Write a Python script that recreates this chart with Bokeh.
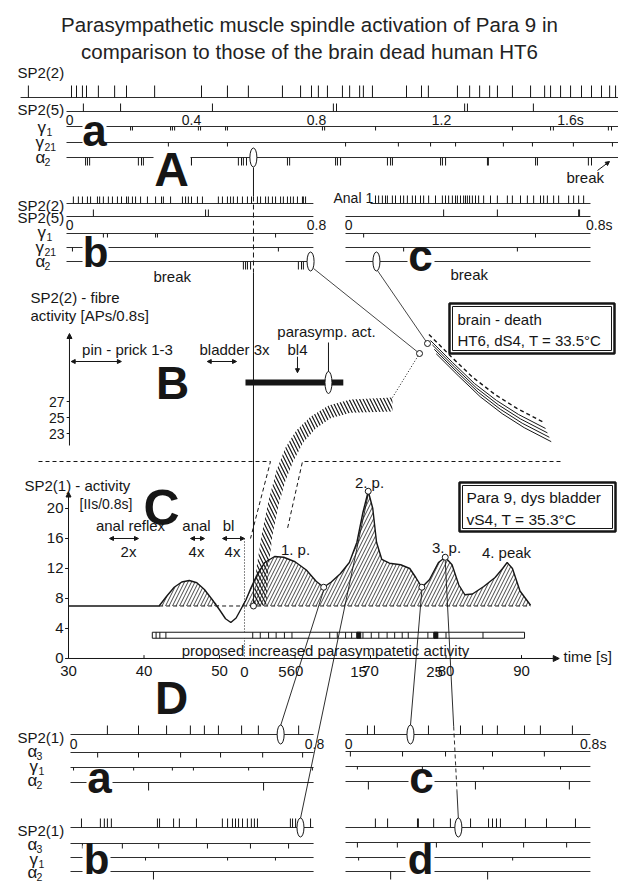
import numpy as np
from bokeh.plotting import figure
from bokeh.models import Range1d, Arrow, NormalHead
from bokeh.core.properties import value
from bokeh.embed import file_html
from bokeh.resources import INLINE

W, H = 618, 882
FONT = "Liberation Sans"
INK = "#161616"

TITLE = ["Parasympathetic muscle spindle activation of Para 9 in",
         "comparison to those of the brain dead human HT6"]

# ---------------- spike trains (s) ----------------
# A-a (0-1.75 s)
Aa_SP22 = [-0.122, 0.016, 0.032, 0.051, 0.064, 0.102, 0.154, 0.192, 0.282, 0.432, 0.515, 0.582,
           0.691, 0.749, 0.784, 0.806, 0.835, 0.883, 0.906, 0.938, 0.950, 0.979, 1.088, 1.136,
           1.158, 1.251, 1.290, 1.322, 1.354, 1.379, 1.427, 1.485, 1.530, 1.549, 1.581, 1.613,
           1.648, 1.680, 1.712, 1.738, 1.757]
Aa_SP25 = [0.054, 0.173, 0.467, 0.854, 0.864, 1.274, 1.283, 1.494]
Aa_G1 = [0.205, 0.211, 0.333, 0.339, 0.346, 0.422, 0.429, 0.509, 0.515, 0.819, 0.826, 0.989,
         1.427, 1.549, 1.558, 1.734, 1.744]
Aa_G21 = [0.326, 0.515, 0.893, 1.062, 1.165, 1.245, 1.398, 1.491, 1.622, 1.747]
Aa_A2 = [0.061, 0.067, 0.074, 0.230, 0.240, 0.246, 0.387, 0.394, 0.400, 0.550, 0.560, 0.566,
         0.576, 0.707, 0.714, 0.861, 0.867, 0.877, 1.027, 1.037, 1.043, 1.197, 1.203, 1.213,
         1.347, 1.350, 1.501, 1.507, 1.670, 1.680]
Aa_MARK = 0.598
Aa_TICKS = [0.01, 0.4, 0.8, 1.2, 1.613]
Aa_TICK_LABELS = ["0", "0.4", "0.8", "1.2", "1.6s"]

# A-b (0-0.8 s)
Ab_SP22 = [0.022, 0.038, 0.051, 0.067, 0.077, 0.099, 0.106, 0.118, 0.134, 0.147, 0.163, 0.176,
           0.192, 0.198, 0.211, 0.221, 0.237, 0.259, 0.285, 0.304, 0.310, 0.333, 0.371, 0.381,
           0.390, 0.400, 0.419, 0.435, 0.486, 0.499, 0.515, 0.525, 0.534, 0.547, 0.563, 0.579,
           0.592, 0.611, 0.621, 0.637, 0.646, 0.659, 0.669, 0.685, 0.694, 0.707, 0.717, 0.726,
           0.739, 0.755, 0.758, 0.765]
Ab_SP25 = [0.086, 0.445, 0.454]
Ab_G1 = [0.118, 0.131, 0.285, 0.291, 0.669]
Ab_G21 = [0.019, 0.678]
Ab_A2 = [0.566, 0.573, 0.579, 0.589, 0.742, 0.752, 0.758]
Ab_MARK = 0.781

# A-c (0-0.8 s), "Anal 1"
Ac_SP22 = [0.096, 0.106, 0.118, 0.128, 0.134, 0.150, 0.160, 0.176, 0.186, 0.198, 0.214, 0.224,
           0.240, 0.250, 0.266, 0.288, 0.310, 0.320, 0.330, 0.342, 0.352, 0.358, 0.368, 0.378,
           0.384, 0.390, 0.397, 0.406, 0.416, 0.426, 0.442, 0.464, 0.486, 0.518, 0.534, 0.560,
           0.582, 0.602, 0.624, 0.634, 0.646, 0.666, 0.682, 0.714, 0.730, 0.746, 0.762]
Ac_SP25 = [0.314, 0.486, 0.746, 0.749]
Ac_G1 = [0.058, 0.608]
Ac_G21 = [0.186, 0.550]
Ac_MARK = 0.099

# D panels (0-0.8 s)
Da_SP21 = [0.121, 0.223, 0.315, 0.393, 0.439, 0.485, 0.561, 0.616, 0.748]
Da_A3 = [0.089, 0.223, 0.361, 0.492, 0.630, 0.761]
Da_G1 = [0.010, 0.207, 0.334, 0.403, 0.584, 0.793]
Da_A2 = [0.256, 0.633]
Da_MARK = 0.689
Db_SP21 = [0.036, 0.098, 0.111, 0.121, 0.134, 0.285, 0.292, 0.338, 0.357, 0.413, 0.498, 0.515,
           0.531, 0.541, 0.551, 0.564, 0.580, 0.593, 0.603, 0.613, 0.721, 0.728, 0.738, 0.787]
Db_A3 = [0.039, 0.170, 0.289, 0.449, 0.590, 0.715]
Db_G1 = [0.043, 0.052, 0.246, 0.515, 0.672]
Db_A2 = [0.272]
Db_MARK = 0.754
Dc_SP21 = [0.072, 0.095, 0.272, 0.377, 0.449, 0.498, 0.587, 0.639, 0.744]
Dc_A3 = [0.016, 0.187, 0.328, 0.482, 0.652]
Dc_G1 = [0.039, 0.252, 0.452, 0.705]
Dc_A2 = [0.075, 0.426, 0.734]
Dc_MARK = 0.213
Dd_SP21 = [0.098, 0.138, 0.236, 0.239, 0.289, 0.344, 0.410, 0.469, 0.482, 0.495, 0.508, 0.590,
           0.659, 0.754]
Dd_A3 = [0.039, 0.170, 0.298, 0.449, 0.584, 0.725]
Dd_G1 = [0.043, 0.548]
Dd_A2 = [0.148, 0.466]
Dd_MARK = 0.370

# ---------------- panel C: SP2(1) activity [IIs/0.8s] vs time [s] ----------------
C_TIME = [30, 42.0, 43.0, 44.0, 45.0, 46.0, 47.0, 48.0, 49.0, 50.0, 50.8, 51.5, 52.2, 52.8, 53.5,
          54.2, 55.0, 56.0, 57.3, 58.5, 60.0, 61.5, 62.8, 63.8, 64.8, 66.0, 67.2, 68.2, 69.0,
          69.7, 70.3, 70.8, 71.5, 72.5, 74.0, 75.2, 76.0, 76.8, 77.8, 79.0, 79.9, 80.8, 81.7,
          82.5, 83.5, 85.0, 86.5, 87.5, 88.1, 88.8, 89.8, 91.2]
C_ACT = [7, 7.0, 8.3, 9.5, 10.2, 10.4, 10.1, 9.2, 7.9, 6.5, 5.3, 4.8, 5.4, 6.5, 7.8,
         9.5, 11.2, 12.8, 13.6, 13.5, 12.9, 11.8, 10.3, 9.5, 10.2, 11.3, 12.8, 15.5, 19.5,
         22.3, 20.0, 15.5, 13.2, 12.7, 12.5, 12.0, 10.8, 9.5, 10.5, 12.8, 13.5, 12.5, 9.8,
         8.5, 8.6, 9.6, 10.8, 12.0, 12.8, 12.0, 9.0, 7.1]
C_BASE = 7
C_HATCH_FROM = 42.0
C_X_TICKS = [30, 40, 50, 60, 70, 80, 90]
C_Y_TICKS = [0, 4, 8, 12, 16, 20]
C_POINTS_T = [54.5, 63.8, 69.7, 76.8, 79.9]
C_POINTS_V = [7, 9.5, 22.3, 9.5, 13.5]
C_PEAK_LABELS = ["1. p.", "2. p.", "3. p.", "4. peak"]
C_STIM = [("anal reflex", "2x", 35.43, 39.27), ("anal", "4x", 46.16, 48.01), ("bl", "4x", 50.40, 53.31)]
C_BAR = (41.1, 90.4, 2.7, 3.5)
C_BAR_DIV = [41.6, 42.1, 42.9, 54.4, 55.4, 56.5, 57.5, 58.6, 59.6, 64.6, 65.6, 66.7, 67.5, 68.2,
             69.0, 70.1, 71.1, 72.2, 73.2, 74.2, 75.0, 77.6, 78.4, 78.9, 80.0, 84.9]
C_BAR_DARK = [(68.2, 68.7), (78.4, 78.9)]

# ---------------- panel B: SP2(2) fibre activity [APs/0.8s] ----------------
B_Y_TICKS = [23, 25, 27]
B_T_TICKS = [0, 5, 15, 25]
B_STIM = [(-22.8, -16.2), (-4.9, -1.05)]
B_BL4 = 6.97
B_PARA_BAR = (0.13, 13.0)
B_PARA_MARK = 11.05
B_BAND_UP_T = [1.18, 1.58, 2.37, 3.16, 4.21, 5.39, 6.84, 8.68, 11.05, 13.95, 19.47]
B_BAND_UP_V = [1.5, 6.25, 10.9, 14.6, 18.4, 21.25, 23.4, 25.1, 26.5, 27.25, 27.5]
B_BAND_LO_T = [2.89, 3.16, 3.68, 4.47, 5.39, 6.45, 7.76, 9.34, 11.32, 13.95, 19.47]
B_BAND_LO_V = [1.5, 6.25, 10.25, 14.0, 17.1, 19.6, 21.9, 23.6, 24.9, 25.6, 25.75]
B_HT6_T = [24.47, 27.37, 30.26, 33.16, 36.05, 39.61]
B_HT6_V = [34.63, 31.88, 29.25, 27.13, 25.38, 23.63]
B_CIRCLES_T = [23.03, 24.08]
B_CIRCLES_V = [33.0, 34.25]

# ---------------- scales (px mapping through Bokeh ranges) ----------------
R = {
    "tA": (-0.2112, 1.7664), "tc": (-1.104, 0.8736),
    "tDa": (-0.22951, 1.79672), "tDc": (-1.13115, 0.89508),
    "tC": (20.993, 102.847), "tB": (-32.105, 49.211),
}
RY = {"vC": (-29.867, 87.733), "vB": (-33.125, 77.125)}


def xpx(r, t):
    a, b = R[r]
    return (t - a) / (b - a) * W


def ypx(r, v):
    a, b = RY[r]
    return H - (v - a) / (b - a) * H


p = figure(width=W, height=H, x_range=Range1d(0, W), y_range=Range1d(H, 0),
           x_axis_type=None, y_axis_type=None, toolbar_location=None,
           output_backend="svg", min_border=0)
p.outline_line_color = None
p.background_fill_color = "white"
p.border_fill_color = "white"
p.extra_x_ranges = {k: Range1d(*v) for k, v in R.items()}
p.extra_y_ranges = {k: Range1d(*v) for k, v in RY.items()}


def lab(x, y, s, size=15, align="left", base="middle", bold=False, xr="default", yr="default",
        color=INK):
    p.text(x=[x], y=[y], text=[s], text_font=value(FONT), text_font_size=f"{size}px",
           text_align=align, text_baseline=base, text_font_style="bold" if bold else "normal",
           text_color=color, x_range_name=xr, y_range_name=yr)


def greek(x, y, g, sub):
    lab(x, y - 1, g, 17)
    lab(x + 9, y + 3, sub, 10.5)


def train(times, xr, y0, h, t0, t1, lw=1.0):
    p.line([t0, t1], [y0, y0], x_range_name=xr, line_color=INK, line_width=0.9)
    if len(times):
        t = np.asarray(times, float)
        p.segment(x0=t, y0=np.full(t.size, float(y0)), x1=t, y1=np.full(t.size, float(y0 - h)),
                  x_range_name=xr, line_color=INK, line_width=lw)


def mark(t, xr, y, w=7, h=19):
    p.ellipse(x=[t], y=[y], width=w, height=h, width_units="screen", height_units="screen",
              fill_color="white", line_color=INK, line_width=1, x_range_name=xr)


def arrow(x0, y0, x1, y1, xr="default", yr="default", both=False, size=5, lw=1):
    head = lambda: NormalHead(size=size, fill_color=INK, line_color=INK, line_width=1)
    p.add_layout(Arrow(start=head() if both else None, end=head(), x_start=x0, y_start=y0,
                       x_end=x1, y_end=y1, x_range_name=xr, y_range_name=yr,
                       line_color=INK, line_width=lw))


def wbox(l, r, t, b):
    p.quad(left=[l], right=[r], top=[t], bottom=[b], fill_color="white", line_color=None)


# ---------------- title ----------------
lab(309, 24, TITLE[0], 20.5, "center", color="#222222")
lab(309, 51, TITLE[1], 20.5, "center", color="#222222")

# ---------------- panel A-a ----------------
lab(17, 72, "SP2(2)")
lab(17, 109, "SP2(5)")
greek(37, 128, "γ", "1")
greek(35, 143, "γ", "21")
greek(35, 158, "α", "2")
train(Aa_SP22, "tA", 97, 12, -0.147, 1.77)
train(Aa_SP25, "tA", 111, 8, 0.0, 1.77)
train(Aa_G1, "tA", 126, -4, 0.0, 1.77)
train(Aa_G21, "tA", 142, -4, 0.0, 1.77)
train(Aa_A2, "tA", 157, -8, 0.0, 1.77)
for t, s in zip(Aa_TICKS, Aa_TICK_LABELS):
    lab(t, 119, s, 14, "center", xr="tA")
lab(566, 177, "break", 15)
arrow(597, 170, 609, 161, size=4)

# ---------------- panel A-b ----------------
lab(17, 205, "SP2(2)")
lab(17, 217, "SP2(5)")
greek(37, 233, "γ", "1")
greek(35, 248, "γ", "21")
greek(35, 262, "α", "2")
train(Ab_SP22, "tA", 203, 7, 0.0, 0.79)
train(Ab_SP25, "tA", 216, 7, 0.0, 0.79)
train(Ab_G1, "tA", 233, -4, 0.0, 0.79)
train(Ab_G21, "tA", 247, -4, 0.0, 0.79)
train(Ab_A2, "tA", 261, -8, 0.0, 0.79)
lab(0.01, 224, "0", 14, "center", xr="tA")
lab(0.8, 224, "0.8", 14, "center", xr="tA")
lab(153, 276, "break", 15)

# ---------------- panel A-c ----------------
lab(333, 197, "Anal 1", 14)
train(Ac_SP22, "tc", 203, 8, 0.08, 0.784)
train(Ac_SP25, "tc", 216, 7, 0.0, 0.784)
train(Ac_G1, "tc", 233, -4, 0.0, 0.784)
train(Ac_G21, "tc", 247, -4, 0.0, 0.784)
train([], "tc", 261, -8, 0.0, 0.784)
lab(0.01, 224, "0", 14, "center", xr="tc")
lab(0.812, 224, "0.8s", 14, "center", xr="tc")
lab(450, 274, "break", 15)

# vertical reference line from A-a mark down to panel C
xv = xpx("tC", C_POINTS_T[0])
yC0 = ypx("vC", C_POINTS_V[0])
p.line([xv, xv], [167, 196], line_color=INK, line_width=1)
p.line([xv, xv], [196, 272], line_color=INK, line_width=1, line_dash="5 3")
p.line([xv, xv], [272, yC0 - 3], line_color=INK, line_width=1)

# marks
mark(Aa_MARK, "tA", 157)
mark(Ab_MARK, "tA", 261)
mark(Ac_MARK, "tc", 261)

# connectors A-b / A-c marks -> HT6 circles
bx, by = xpx("tA", Ab_MARK) + 3, 268
cx, cy = xpx("tc", Ac_MARK) + 1, 270
p.line([bx, xpx("tB", B_CIRCLES_T[0])], [by, ypx("vB", B_CIRCLES_V[0])], line_color=INK, line_width=0.8)
p.line([cx, xpx("tB", B_CIRCLES_T[1])], [cy, ypx("vB", B_CIRCLES_V[1])], line_color=INK, line_width=0.8)

# ---------------- panel B ----------------
lab(30, 297, "SP2(2) - fibre", 15)
lab(30, 315, "activity [APs/0.8s]", 15)
arrow(-23.03, 21.5, -23.03, 35.5, xr="tB", yr="vB", size=5)
for v in B_Y_TICKS:
    lab(64, v, str(v), 14, "right", yr="vB")
    p.line([-23.03, -23.4], [v, v], x_range_name="tB", y_range_name="vB", line_color=INK, line_width=1)
lab(127, 349, "pin - prick 1-3", 15, "center")
lab(234, 349, "bladder 3x", 15, "center")
lab(297, 349, "bl4", 15, "center")
lab(326, 331, "parasymp. act.", 15, "center")
for (a, b) in B_STIM:
    arrow(a, 32, b, 32, xr="tB", yr="vB", both=True, size=4)
arrow(B_BL4, 32.6, B_BL4, 30.6, xr="tB", yr="vB", size=4)
# thick parasympathetic bar
p.line(list(B_PARA_BAR), [382, 382], x_range_name="tB", line_color=INK, line_width=6)
p.line([B_PARA_MARK, B_PARA_MARK], [342, 372], x_range_name="tB", line_color=INK, line_width=1)
mark(B_PARA_MARK, "tB", 382, 7, 22)
lab(172, 382, "B", 46, "center", "alphabetic", True)

# rising hatched band
band_t = B_BAND_UP_T + B_BAND_LO_T[::-1]
band_v = B_BAND_UP_V + B_BAND_LO_V[::-1]
p.patch(band_t, band_v, x_range_name="tB", y_range_name="vB", fill_color=None, line_color=None,
        hatch_pattern="\\", hatch_color=INK, hatch_scale=7, hatch_weight=1.2)
# plateau to HT6 circle (dotted)
p.line([B_BAND_UP_T[-1], B_CIRCLES_T[0]], [B_BAND_UP_V[-1], B_CIRCLES_V[0]], x_range_name="tB",
       y_range_name="vB", line_color=INK, line_width=1, line_dash="1 2")
# HT6 descending band
ht_t = np.asarray(B_HT6_T, float)
ht_v = np.asarray(B_HT6_V, float)
for k in range(4):
    p.line(ht_t + 0.25 * k, ht_v - 0.55 * k, x_range_name="tB", y_range_name="vB", line_color=INK,
           line_width=1)
p.line(ht_t - 0.2, ht_v + 0.75, x_range_name="tB", y_range_name="vB", line_color=INK,
       line_width=1.4, line_dash="4 3")
p.scatter(B_CIRCLES_T, B_CIRCLES_V, x_range_name="tB", y_range_name="vB", marker="circle", size=6,
          fill_color="white", line_color=INK, line_width=1)

# brain-death box
p.quad(left=[449], right=[614], top=[303], bottom=[353], fill_color="white", line_color=INK, line_width=2.5)
p.quad(left=[452], right=[611], top=[306], bottom=[350], fill_color=None, line_color=INK, line_width=1)
lab(457, 319, "brain - death", 15)
lab(457, 340, "HT6, dS4, T = 33.5°C", 15)

# separator B / C (dashed)
p.line([38, 270, 250], [461, 461, 538], line_color=INK, line_width=1, line_dash="4 3")
p.line([560, 302, 287], [461, 461, 528], line_color=INK, line_width=1, line_dash="4 3")

# ---------------- panel C ----------------
lab(24, 485, "SP2(1) - activity", 15)
lab(79, 503, "[IIs/0.8s]", 14)
lab(161, 507, "C", 50, "center", "alphabetic", True)
arrow(30, 0, 30, 22.2, xr="tC", yr="vC", size=5)
arrow(30, 0, 95.0, 0, xr="tC", yr="vC", size=6)
lab(563, 656, "time [s]", 15)
for v in C_Y_TICKS:
    lab(63, v, str(v), 15, "right", yr="vC")
    p.line([30, 29.55], [v, v], x_range_name="tC", y_range_name="vC", line_color=INK, line_width=1)
for t in C_X_TICKS:
    lab(t, 670, str(t), 15, "center", xr="tC")
    p.line([t, t], [0, 0.45], x_range_name="tC", y_range_name="vC", line_color=INK, line_width=1)
for t in B_T_TICKS:
    lab(t, 671, str(t), 15, "center", xr="tB")

tC = np.asarray(C_TIME, float)
aC = np.asarray(C_ACT, float)
m = tC >= C_HATCH_FROM
p.varea(x=tC[m], y1=np.full(m.sum(), float(C_BASE)), y2=np.maximum(aC[m], C_BASE),
        x_range_name="tC", y_range_name="vC", fill_color=None, hatch_pattern="/",
        hatch_color=INK, hatch_scale=7, hatch_weight=0.8)
p.line([C_HATCH_FROM, tC[-1]], [C_BASE, C_BASE], x_range_name="tC", y_range_name="vC",
       line_color=INK, line_width=1, line_dash="4 3")
p.line(tC, aC, x_range_name="tC", y_range_name="vC", line_color=INK, line_width=1.4)

# stimuli
stim_lab_x = [130, 196, 228]
stim_n_x = [128, 196, 232]
for (name, n, a, b), lx, nx in zip(C_STIM, stim_lab_x, stim_n_x):
    lab(lx, 525, name, 15, "center")
    lab(nx, 551, n, 15, "center")
    arrow(a, 16.0, b, 16.0, xr="tC", yr="vC", both=True, size=4)
p.line([C_STIM[2][3], C_STIM[2][3]], [16.0, 0], x_range_name="tC", y_range_name="vC",
       line_color=INK, line_width=1, line_dash="1 2")

# peak labels
lab(295, 549, C_PEAK_LABELS[0], 15, "center")
lab(369, 482, C_PEAK_LABELS[1], 15, "center")
lab(446, 547, C_PEAK_LABELS[2], 15, "center")
lab(506, 552, C_PEAK_LABELS[3], 15, "center")

# proposed activity bar
b0, b1, v0, v1 = C_BAR
p.quad(left=[b0], right=[b1], bottom=[v0], top=[v1], x_range_name="tC", y_range_name="vC",
       fill_color="white", line_color=INK, line_width=1)
p.quad(left=[d[0] for d in C_BAR_DARK], right=[d[1] for d in C_BAR_DARK], bottom=[v0] * 2,
       top=[v1] * 2, x_range_name="tC", y_range_name="vC", fill_color=INK, line_color=INK)
p.segment(x0=C_BAR_DIV, y0=[v0] * len(C_BAR_DIV), x1=C_BAR_DIV, y1=[v1] * len(C_BAR_DIV),
          x_range_name="tC", y_range_name="vC", line_color=INK, line_width=1)
lab(325, 650, "proposed increased parasympatetic activity", 15, "center")

# Para 9 box
p.quad(left=[459], right=[615], top=[482], bottom=[531], fill_color="white", line_color=INK, line_width=2.5)
p.quad(left=[462], right=[612], top=[485], bottom=[528], fill_color=None, line_color=INK, line_width=1)
lab(466, 497, "Para 9, dys bladder", 15.5)
lab(466, 519, "vS4, T = 35.3°C", 15.5)

# ---------------- panel D ----------------
lab(171, 697, "D", 46, "center", "alphabetic", True)
for yb, ys in ((0, 0), (93, -1)):
    lab(17, 737 + yb, "SP2(1)")
    greek(27, 752 + yb, "α", "3")
    greek(29, 767 + yb, "γ", "1")
    greek(27, 782 + yb + ys - 1, "α", "2")
train(Da_SP21, "tDa", 734, 9, 0.0, 0.797)
train(Da_A3, "tDa", 752, -5, 0.0, 0.797)
train(Da_G1, "tDa", 767, -3, 0.0, 0.797)
train(Da_A2, "tDa", 782, -8, 0.0, 0.797)
train(Db_SP21, "tDa", 827, 9, 0.0, 0.797)
train(Db_A3, "tDa", 843, -5, 0.0, 0.797)
train(Db_G1, "tDa", 857, -3, 0.0, 0.797)
train(Db_A2, "tDa", 871, -8, 0.0, 0.797)
train(Dc_SP21, "tDc", 734, 9, 0.0, 0.803)
train(Dc_A3, "tDc", 751, -5, 0.0, 0.803)
train(Dc_G1, "tDc", 766, -3, 0.0, 0.803)
train(Dc_A2, "tDc", 781, -8, 0.0, 0.803)
train(Dd_SP21, "tDc", 827, 9, 0.0, 0.803)
train(Dd_A3, "tDc", 842, -5, 0.0, 0.803)
train(Dd_G1, "tDc", 857, -3, 0.0, 0.803)
train(Dd_A2, "tDc", 871, -8, 0.0, 0.803)
lab(0.01, 743, "0", 14, "center", xr="tDa")
lab(0.8, 743, "0.8", 14, "center", xr="tDa")
lab(0.01, 743, "0", 14, "center", xr="tDc")
lab(0.812, 743, "0.8s", 14, "center", xr="tDc")

# connectors from panel C points to D marks
pts = [(C_POINTS_T[1], C_POINTS_V[1], "tDa", Da_MARK, 734),
       (C_POINTS_T[2], C_POINTS_V[2], "tDa", Db_MARK, 827),
       (C_POINTS_T[3], C_POINTS_V[3], "tDc", Dc_MARK, 734),
       (C_POINTS_T[4], C_POINTS_V[4], "tDc", Dd_MARK, 827)]
for i, (tt, vv, r, mt, my) in enumerate(pts):
    x0, y0 = xpx("tC", tt), ypx("vC", vv) + 3
    x1, y1 = xpx(r, mt), my - 9
    if i == 3:
        fa = (726 - y0) / (y1 - y0)
        fb = (790 - y0) / (y1 - y0)
        xa, xb = x0 + fa * (x1 - x0), x0 + fb * (x1 - x0)
        p.line([x0, xa], [y0, 726], line_color=INK, line_width=0.9)
        p.line([xa, xb], [726, 790], line_color=INK, line_width=0.9, line_dash="4 3")
        p.line([xb, x1], [790, y1], line_color=INK, line_width=0.9)
    else:
        p.line([x0, x1], [y0, y1], line_color=INK, line_width=0.9)

mark(Da_MARK, "tDa", 734)
mark(Db_MARK, "tDa", 827)
mark(Dc_MARK, "tDc", 734)
mark(Dd_MARK, "tDc", 827)

p.scatter(C_POINTS_T, C_POINTS_V, x_range_name="tC", y_range_name="vC", marker="circle", size=6,
          fill_color="white", line_color=INK, line_width=1)

# ---------------- bold sub-panel letters (with gaps in the traces) ----------------
letters = [("a", 94, 148, 44, (82, 106, 123, 150)), ("A", 171, 187, 48, (153, 190, 150, 189)),
           ("b", 95, 270, 42, (82, 108, 239, 272)), ("c", 420, 273, 44, (407, 434, 249, 275)),
           ("a", 99, 795, 44, (86, 112, 770, 797)), ("b", 96, 877, 42, (82, 110, 845, 879)),
           ("c", 421, 795, 44, (408, 434, 772, 797)), ("d", 420, 877, 42, (405, 434, 845, 879))]
for s, x, y, size, box in letters:
    wbox(*box)
    lab(x, y - 18, s, size, "center", "alphabetic", True)

open("out.html", "w").write(file_html(p, INLINE))
